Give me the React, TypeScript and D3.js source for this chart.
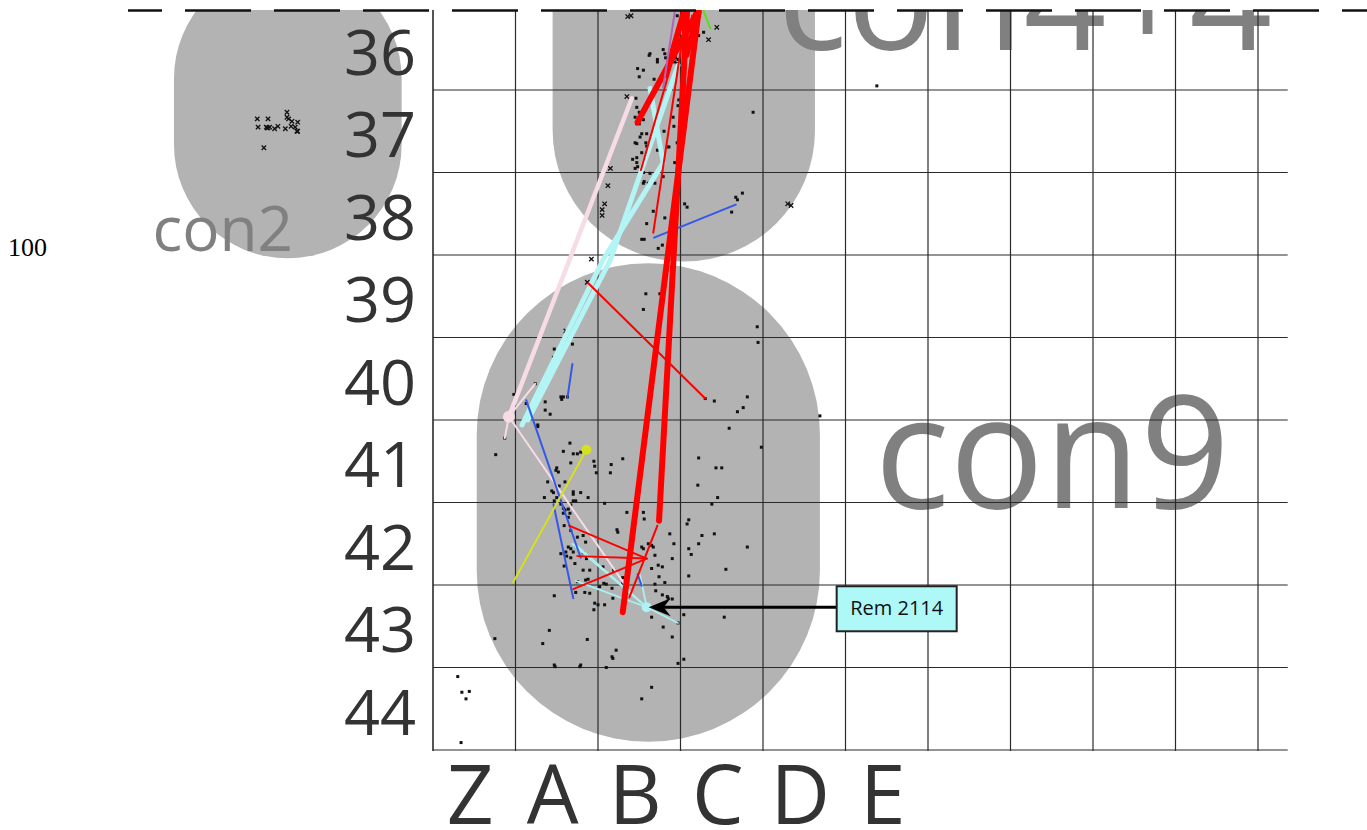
import React from "react";
import * as d3 from "d3";

const W = 1367;
const H = 830;

// Grid: columns in square units (Z = 0..1), rows by northing label
const rowLabels = ["36", "37", "38", "39", "40", "41", "42", "43", "44"];
const rowValues = [36, 37, 38, 39, 40, 41, 42, 43, 44];
const colLabels = ["Z", "A", "B", "C", "D", "E"];
const gridCols = d3.range(0, 11);
const gridRows = d3.range(36.5, 45, 1);

// Context zones (grey areas)
const zoneNames = ["con2", "con4+4", "con9"];
const zoneX0 = [-3.14, 1.45, 0.53];
const zoneX1 = [-0.38, 4.63, 4.69];
const zoneY0 = [34.98, 32.98, 38.6];
const zoneY1 = [38.54, 38.58, 44.4];
const zoneLabelX = [-3.4, 4.18, 5.35];
const zoneLabelY = [38.45, 36.02, 41.57];
const zoneLabelSize = [62, 145, 157];

// Finds shown as small squares
const squareFinds: [number, number][] = [
  [2.63, 36.06], [2.62, 36.08], [2.72, 36.13], [2.72, 36.16], [2.79, 36.01], [2.81, 36.06], [2.82, 36.11],
  [2.48, 36.24], [2.55, 36.26], [2.5, 36.34], [2.68, 36.37], [2.94, 36.11], [2.93, 36.16], [2.96, 36.18],
  [2.97, 36.13], [2.98, 35.89], [3.05, 35.61], [3.13, 35.8], [3.22, 35.84], [3.28, 35.8], [3.15, 35.61],
  [2.96, 35.6], [2.85, 36.16],
  [2.46, 36.6], [2.47, 36.71], [2.5, 36.77], [2.45, 36.83], [2.47, 36.91], [2.5, 36.91], [2.55, 36.86],
  [2.51, 37.07], [2.53, 37.03], [2.45, 37.14], [2.47, 37.15], [2.58, 37.14], [2.59, 37.18], [2.53, 37.26],
  [2.47, 37.32], [2.42, 37.34], [2.47, 37.38], [2.48, 37.43], [2.45, 37.45], [2.5, 37.57], [2.48, 37.62],
  [2.56, 37.61], [2.55, 37.63], [2.61, 37.63], [2.63, 37.51], [2.69, 37.63], [2.79, 37.55], [2.67, 37.97],
  [2.59, 38.12], [2.81, 38.05], [2.98, 36.62], [2.97, 36.69], [2.91, 36.83], [2.92, 36.94], [2.84, 37.19],
  [2.86, 37.19], [2.8, 37.0], [2.72, 37.23], [2.68, 37.02], [2.59, 37.03], [2.96, 37.14], [2.93, 37.38],
  [3.05, 37.88], [3.08, 37.92], [2.94, 37.88], [2.73, 38.42], [2.78, 38.38], [2.56, 38.31], [2.53, 38.31],
  [2.55, 37.5], [3.88, 36.77], [3.67, 37.8], [3.69, 37.83], [3.75, 37.75], [3.62, 37.98], [5.38, 36.45],
  [2.58, 38.97], [2.75, 38.97], [2.55, 39.16], [3.93, 39.37], [3.94, 39.56], [1.69, 39.58], [1.47, 39.64],
  [1.46, 39.74], [1.55, 40.22], [1.58, 40.22], [1.56, 40.25], [1.63, 40.22], [1.36, 40.28], [1.36, 40.38],
  [1.42, 40.43], [1.13, 40.3], [1.24, 40.06], [0.98, 40.19], [1.27, 40.56], [1.27, 40.58], [3.41, 40.27],
  [3.3, 40.24], [3.81, 40.22], [3.76, 40.35], [3.69, 40.4], [3.59, 40.6], [1.66, 40.78], [3.98, 40.83],
  [0.87, 40.72], [4.69, 40.45],
  [0.76, 40.92], [1.58, 40.88], [1.7, 40.91], [1.75, 40.91], [1.79, 40.89], [1.95, 41.0], [1.67, 41.02],
  [2.3, 40.97], [2.16, 41.04], [2.15, 41.14], [1.96, 41.06], [1.98, 41.14], [1.5, 41.08], [1.49, 41.11],
  [1.52, 41.13], [1.39, 41.25], [1.6, 41.25], [1.53, 41.3], [1.7, 41.37], [1.7, 41.4], [1.79, 41.38],
  [1.88, 41.44], [1.44, 41.36], [1.46, 41.38], [1.35, 41.44], [1.47, 41.48], [1.5, 41.44], [1.55, 41.52],
  [1.58, 41.57], [1.6, 41.59], [1.64, 41.58], [1.66, 41.63], [1.67, 41.53], [1.7, 41.48], [1.73, 41.48],
  [2.08, 41.51], [1.58, 41.63], [1.64, 41.68], [1.59, 41.78], [1.67, 41.84], [1.75, 41.92], [1.82, 41.9],
  [1.85, 41.98], [1.64, 42.04], [1.67, 42.06], [1.7, 42.1], [1.61, 42.1], [1.55, 42.12], [1.62, 42.15],
  [1.67, 42.17], [1.82, 42.11], [1.86, 42.18], [1.72, 42.24], [1.59, 42.27], [1.82, 42.32], [1.9, 42.32],
  [2.06, 42.28], [2.19, 42.32], [2.23, 41.83], [2.24, 41.86], [2.35, 41.62], [2.55, 41.62], [2.56, 41.7],
  [2.53, 42.04], [2.55, 42.06], [2.67, 42.04], [2.61, 42.0], [2.65, 42.02], [2.69, 42.14], [2.87, 41.88],
  [2.92, 42.0], [2.65, 42.3], [2.73, 42.26], [2.78, 42.28], [2.74, 42.4], [2.81, 42.47], [2.9, 42.18],
  [2.7, 42.57], [2.69, 42.49], [2.36, 42.36], [2.35, 42.42], [2.3, 42.41], [2.3, 42.48], [2.07, 42.48],
  [2.1, 42.49], [2.17, 42.54], [2.18, 42.66], [2.08, 42.74], [2.02, 42.52], [2.0, 42.74], [1.96, 42.72],
  [1.95, 42.8], [1.85, 42.44], [1.88, 42.43], [1.84, 42.59], [1.9, 42.6], [1.75, 42.46], [1.73, 42.59],
  [1.47, 42.63], [2.78, 42.62], [2.85, 42.66], [2.9, 42.67], [2.84, 42.64], [2.65, 42.89], [2.79, 43.01],
  [2.9, 43.13], [2.97, 42.96], [3.04, 42.86], [3.53, 42.89], [1.41, 43.05], [1.33, 43.21], [1.87, 43.16],
  [2.22, 43.29], [2.18, 43.39], [2.1, 43.5], [1.78, 43.49], [1.48, 43.49], [2.97, 43.45], [3.04, 43.4],
  [0.75, 43.15], [3.1, 41.71], [3.08, 41.76], [3.26, 41.9], [3.41, 41.88], [3.22, 42.0], [3.1, 42.06],
  [3.13, 42.13], [3.81, 42.04], [3.55, 42.31], [3.1, 42.39], [3.38, 41.52], [3.45, 41.44], [3.22, 40.96],
  [3.21, 41.29], [3.43, 41.08], [3.5, 41.08],
  [0.3, 43.61], [0.35, 43.8], [0.44, 43.79], [0.4, 43.88], [0.34, 44.41], [1.47, 43.47], [1.79, 43.47],
  [2.17, 43.37], [2.65, 43.74], [2.53, 43.88],
];

// Finds shown as crosses
const crossFinds: [number, number][] = [
  [-2.13, 36.85], [-2.0, 36.85], [-1.77, 36.77], [-1.77, 36.83], [-1.75, 36.85], [-1.71, 36.88],
  [-1.64, 36.89], [-2.12, 36.95], [-2.02, 36.95], [-2.01, 36.96], [-1.92, 36.97], [-1.88, 36.94],
  [-1.79, 36.97], [-1.72, 36.94], [-1.67, 36.95], [-1.65, 37.0], [-1.64, 37.0], [-2.05, 37.2],
  [-2.0, 36.96], [-1.98, 36.95],
  [2.36, 35.61], [2.4, 35.6], [3.34, 35.89], [3.44, 35.74], [3.06, 35.82], [2.35, 36.58], [2.15, 37.45],
  [2.12, 37.66], [2.08, 37.88], [2.05, 37.95], [2.05, 38.02], [1.92, 38.55], [1.87, 38.83], [1.61, 39.42],
  [4.3, 37.88], [4.34, 37.9],
];

// Refit links (polylines)
const redHeavyLinks: [number, number][][] = [
  [[2.3, 42.83], [3.22, 35.54]],
  [[2.74, 41.72], [3.08, 35.54]],
  [[2.48, 36.89], [3.21, 35.54]],
  [[2.82, 36.32], [3.04, 35.56], [3.07, 36.08], [3.22, 35.56]],
];
const redLinks: [number, number][][] = [
  [[2.67, 38.23], [3.02, 35.9]],
  [[2.52, 37.47], [2.91, 36.12]],
  [[1.88, 38.84], [3.3, 40.24]],
  [[1.65, 41.78], [2.59, 42.18]],
  [[1.75, 42.15], [2.59, 42.18]],
  [[1.7, 42.55], [2.59, 42.18]],
  [[2.72, 41.78], [2.38, 42.65]],
];
const blueLinks: [number, number][][] = [
  [[2.68, 38.29], [3.67, 37.89]],
  [[1.69, 39.82], [1.63, 40.23]],
  [[1.13, 40.26], [1.79, 42.17]],
  [[1.46, 41.52], [1.7, 42.66]],
  [[2.48, 42.37], [2.53, 42.51]],
];
const cyanHeavyLinks: [number, number][][] = [
  [[2.63, 36.48], [2.79, 37.38], [2.06, 38.56], [1.08, 40.56]],
  [[2.97, 36.2], [2.15, 38.56], [1.15, 40.5]],
];
const cyanLinks: [number, number][][] = [
  [[1.69, 42.0], [2.59, 42.77]],
  [[1.73, 42.45], [2.59, 42.77]],
  [[1.75, 42.03], [2.59, 42.77]],
  [[2.59, 42.77], [2.97, 42.96]],
  [[2.59, 42.77], [2.51, 42.38]],
];
const pinkHeavyLinks: [number, number][][] = [[[2.41, 36.6], [0.92, 40.46]]];
const pinkLinks: [number, number][][] = [
  [[0.92, 40.46], [1.24, 40.06]],
  [[0.92, 40.46], [0.87, 40.72]],
  [[0.92, 40.46], [2.41, 42.62]],
];
const yellowLinks: [number, number][][] = [[[1.86, 40.86], [0.97, 42.47]]];
const purpleLinks: [number, number][][] = [[[2.79, 36.47], [2.93, 35.56]]];
const greenLinks: [number, number][][] = [[[3.28, 35.54], [3.36, 35.75]]];

const nodeDots = [
  { at: [0.92, 40.46] as [number, number], color: "#f7dbe7", r: 6 },
  { at: [1.86, 40.86] as [number, number], color: "#d6e01e", r: 5 },
  { at: [2.59, 42.77] as [number, number], color: "#aef3f3", r: 5 },
];

const remarkLabels = ["Rem 2114"];
const remarkPoints: [number, number][] = [[2.59, 42.77]];

const x = d3.scaleLinear().domain([0, 10]).range([433, 1258]);
const y = d3.scaleLinear().domain([35.5, 44.5]).range([7.5, 750]);
const line = d3
  .line<[number, number]>()
  .x((d) => x(d[0]))
  .y((d) => y(d[1]));

const linkGroups = [
  { data: pinkHeavyLinks, color: "#f7dbe7", width: 4.5 },
  { data: pinkLinks, color: "#f7dbe7", width: 2 },
  { data: cyanHeavyLinks, color: "#b3f4f4", width: 5 },
  { data: cyanLinks, color: "#a9f1f1", width: 1.8 },
  { data: blueLinks, color: "#3558ea", width: 2 },
  { data: yellowLinks, color: "#d6e01e", width: 2 },
  { data: redLinks, color: "#ff0000", width: 2 },
  { data: redHeavyLinks, color: "#ff0000", width: 6 },
  { data: purpleLinks, color: "#b066b6", width: 2 },
  { data: greenLinks, color: "#5fdc1a", width: 2 },
];

const FONT = "'Open Sans', 'Noto Sans', sans-serif";

export default function App() {
  const gridRight = x(10.36);
  return (
    <svg
      width={W}
      height={H}
      style={{ position: "absolute", left: 0, top: 0, background: "#fff" }}
    >
      <defs>
        <clipPath id="clipTop">
          <rect x={0} y={10} width={W} height={H - 10} />
        </clipPath>
      </defs>
      <text x={8} y={256} fontFamily="'Liberation Serif', 'Times New Roman', serif" fontSize={26} fill="#000">
        100
      </text>
      <g clipPath="url(#clipTop)">
        {zoneNames.map((n, i) => {
          const w = x(zoneX1[i]) - x(zoneX0[i]);
          return (
            <rect
              key={n}
              x={x(zoneX0[i])}
              y={y(zoneY0[i])}
              width={w}
              height={y(zoneY1[i]) - y(zoneY0[i])}
              rx={w / 2}
              ry={w / 2}
              fill="#b3b3b3"
            />
          );
        })}
        {zoneNames.map((n, i) => (
          <text
            key={n + "l"}
            x={x(zoneLabelX[i])}
            y={y(zoneLabelY[i])}
            fontFamily={FONT}
            fontSize={zoneLabelSize[i]}
            fill="#808080"
          >
            {n}
          </text>
        ))}
      </g>
      {rowLabels.map((l, i) => (
        <text
          key={l}
          x={416}
          y={y(rowValues[i]) + 26}
          textAnchor="end"
          fontFamily={FONT}
          fontSize={63}
          fill="#333"
        >
          {l}
        </text>
      ))}
      {colLabels.map((l, i) => (
        <text
          key={l}
          x={x(i + 0.5) - 4}
          y={824}
          textAnchor="middle"
          fontFamily={FONT}
          fontSize={82}
          fill="#333"
        >
          {l}
        </text>
      ))}
      <g stroke="#2a2a2a" strokeWidth={1.2}>
        {gridRows.map((r) => (
          <line key={"h" + r} x1={x(0)} x2={gridRight} y1={y(r)} y2={y(r)} />
        ))}
        {gridCols.map((c) => (
          <line key={"v" + c} x1={x(c)} x2={x(c)} y1={10} y2={751} strokeWidth={c === 0 ? 1.6 : 1.2} />
        ))}
      </g>
      <g clipPath="url(#clipTop)">
        {squareFinds.map((d, i) => (
          <rect key={"s" + i} x={x(d[0]) - 1.5} y={y(d[1]) - 1.5} width={3} height={3} fill="#111" />
        ))}
        {crossFinds.map((d, i) => (
          <path
            key={"c" + i}
            transform={`translate(${x(d[0])},${y(d[1])})`}
            d="M-2.2,-2.2L2.2,2.2M-2.2,2.2L2.2,-2.2"
            stroke="#111"
            strokeWidth={1.3}
          />
        ))}
        {linkGroups.map((g, gi) =>
          g.data.map((pl, i) => (
            <path
              key={gi + "-" + i}
              d={line(pl) || ""}
              fill="none"
              stroke={g.color}
              strokeWidth={g.width}
              strokeLinejoin="round"
              strokeLinecap="round"
            />
          ))
        )}
        {nodeDots.map((n, i) => (
          <circle key={"n" + i} cx={x(n.at[0])} cy={y(n.at[1])} r={n.r} fill={n.color} />
        ))}
      </g>
      {remarkLabels.map((lab, i) => {
        const px = x(remarkPoints[i][0]);
        const py = y(remarkPoints[i][1]);
        const bx = px + 190;
        const bw = 120;
        const bh = 45;
        return (
          <g key={lab}>
            <line x1={bx} x2={px + 16} y1={py} y2={py} stroke="#000" strokeWidth={3} />
            <path
              d={`M${px + 2},${py} L${px + 24},${py - 9} L${px + 17},${py} L${px + 24},${py + 9} Z`}
              fill="#000"
            />
            <rect x={bx} y={py - 21} width={bw} height={bh} fill="#aef8f8" stroke="#222" strokeWidth={2} />
            <text
              x={bx + bw / 2}
              y={py + 8}
              textAnchor="middle"
              fontFamily={FONT}
              fontSize={20}
              fill="#111"
            >
              {lab}
            </text>
          </g>
        );
      })}
      <line
        x1={128}
        x2={W}
        y1={10.5}
        y2={10.5}
        stroke="#111"
        strokeWidth={2.5}
        strokeDasharray="66 23"
        strokeDashoffset={32}
      />
    </svg>
  );
}
